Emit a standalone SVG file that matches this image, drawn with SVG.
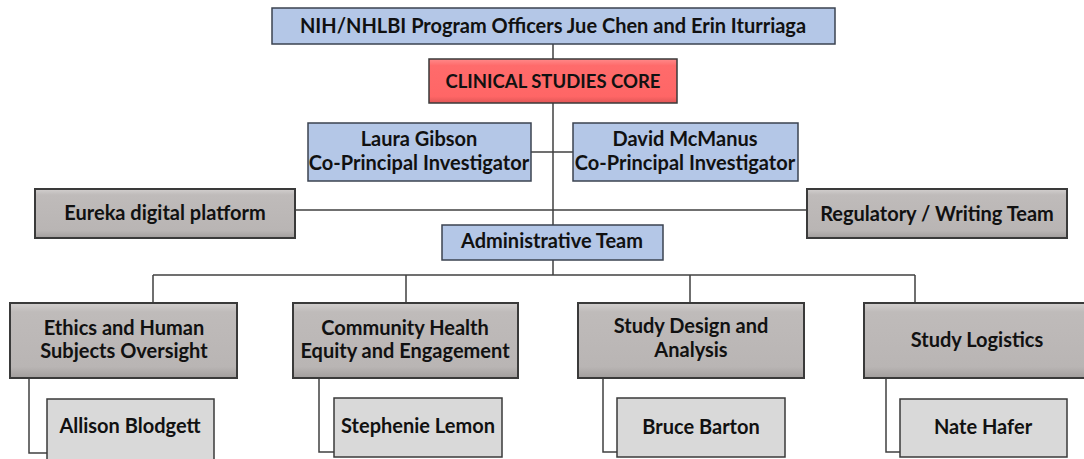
<svg xmlns="http://www.w3.org/2000/svg" width="1084" height="459" viewBox="0 0 1084 459">
<defs>
<linearGradient id="gGrey" x1="0" y1="0" x2="0" y2="1">
<stop offset="0" stop-color="#d2cfce"/>
<stop offset="0.12" stop-color="#bfbbba"/>
<stop offset="0.85" stop-color="#b9b5b4"/>
<stop offset="1" stop-color="#a29e9d"/>
</linearGradient>
<linearGradient id="gRed" x1="0" y1="0" x2="0" y2="1">
<stop offset="0" stop-color="#ff8a8a"/>
<stop offset="0.15" stop-color="#ff6b6b"/>
<stop offset="0.85" stop-color="#ff6666"/>
<stop offset="1" stop-color="#e05656"/>
</linearGradient>
</defs>
<style>
.blue{fill:#b4c7e7;stroke:#3b4350;stroke-width:1.5}
.grey{fill:url(#gGrey);stroke:#3a3a3a;stroke-width:2}
.red{fill:url(#gRed);stroke:#3a3a3a;stroke-width:1.5}
.pers{fill:#d9d9d9;stroke:#3a3a3a;stroke-width:1.5}
text{font-family:Lato,"Open Sans","Liberation Sans",sans-serif;font-weight:700;fill:#111;text-anchor:middle;font-size:20px}
.t18{font-size:18.5px}
#connectors path{fill:none;stroke:#404040;stroke-width:1.5}
</style>
<g id="connectors">
<path d="M553 44V275"/>
<path d="M531 152H573"/>
<path d="M295 210H807"/>
<path d="M153 275H915"/>
<path d="M153 275V303M406 275V303M690 275V303M915 275V303"/>
<path d="M29 378V453H47"/>
<path d="M319 378V452H334"/>
<path d="M603 378V452H617"/>
<path d="M886 378V452H900"/>
</g>
<g id="nih">
<rect class="blue" x="272" y="8" width="563" height="36"/>
<text x="553" y="33">NIH/NHLBI Program Officers Jue Chen and Erin Iturriaga</text>
</g>
<g id="csc">
<rect class="red" x="429" y="59" width="248" height="44"/>
<text class="t18" x="553" y="88">CLINICAL STUDIES CORE</text>
</g>
<g id="gibson">
<rect class="blue" x="308" y="123" width="223" height="58"/>
<text x="419" y="146">Laura Gibson</text>
<text x="419" y="170">Co-Principal Investigator</text>
</g>
<g id="mcmanus">
<rect class="blue" x="573" y="123" width="225" height="58"/>
<text x="685" y="146">David McManus</text>
<text x="685" y="170">Co-Principal Investigator</text>
</g>
<g id="eureka">
<rect class="grey" x="35" y="189" width="260" height="49"/>
<text x="165" y="220">Eureka digital platform</text>
</g>
<g id="regulatory">
<rect class="grey" x="807" y="189" width="260" height="49"/>
<text x="937" y="221">Regulatory / Writing Team</text>
</g>
<g id="admin">
<rect class="blue" x="442" y="225" width="221" height="35"/>
<text x="552" y="248">Administrative Team</text>
</g>
<g id="ethics">
<rect class="grey" x="10" y="303" width="227" height="75"/>
<text x="124" y="335">Ethics and Human</text>
<text x="124" y="358">Subjects Oversight</text>
</g>
<g id="community">
<rect class="grey" x="293" y="303" width="225" height="75"/>
<text x="405" y="335">Community Health</text>
<text x="405" y="358">Equity and Engagement</text>
</g>
<g id="design">
<rect class="grey" x="578" y="303" width="226" height="75"/>
<text x="691" y="333">Study Design and</text>
<text x="691" y="357">Analysis</text>
</g>
<g id="logistics">
<rect class="grey" x="864" y="303" width="224" height="75"/>
<text x="977" y="347">Study Logistics</text>
</g>
<g id="blodgett">
<rect class="pers" x="47" y="399" width="167" height="64"/>
<text x="130" y="433">Allison Blodgett</text>
</g>
<g id="lemon">
<rect class="pers" x="334" y="398" width="168" height="59"/>
<text x="418" y="433">Stephenie Lemon</text>
</g>
<g id="barton">
<rect class="pers" x="617" y="398" width="168" height="59"/>
<text x="701" y="434">Bruce Barton</text>
</g>
<g id="hafer">
<rect class="pers" x="900" y="399" width="167" height="58"/>
<text x="983" y="434">Nate Hafer</text>
</g>
</svg>
